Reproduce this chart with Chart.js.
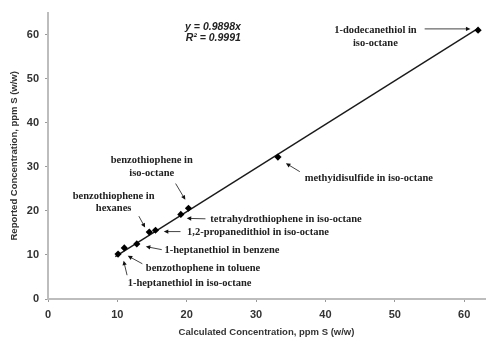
<!DOCTYPE html>
<html>
<head>
<meta charset="utf-8">
<script src="https://cdn.jsdelivr.net/npm/chart.js@4"></script>
<style>
  html, body { margin: 0; padding: 0; background: #fff; }
</style>
</head>
<body>
<canvas id="chart" width="489" height="338"></canvas>
<script>
// measured points: calculated vs reported sulfur (ppm S w/w)
const calculated = [10.1, 11.0, 12.8, 14.6, 15.5, 19.15, 20.25, 33.15, 62.0];
const reported   = [10.2, 11.6, 12.5, 15.2, 15.6, 19.2, 20.6, 32.2, 61.0];

// fitted line y = 0.9898x, end points
const trendX = [9.7, 62.0];
const trendY = [9.6, 61.4];

const xTicks = [0, 10, 20, 30, 40, 50, 60];
const yTicks = [0, 10, 20, 30, 40, 50, 60];

const equationLines = ['y = 0.9898x', 'R² = 0.9991'];

// callouts: text lines, anchor in data units, align, arrow tail -> head in data units
const callouts = [
  { lines: ['1-dodecanethiol in', 'iso-octane'], at: [47.2, 61.0], align: 'center', arrow: [54.3, 61.3, 60.9, 61.3] },
  { lines: ['methyidisulfide in iso-octane'], at: [37.0, 27.4], align: 'left', arrow: [36.3, 28.9, 34.3, 30.8] },
  { lines: ['benzothiophene in', 'iso-octane'], at: [14.96, 31.5], align: 'center', arrow: [18.4, 26.2, 19.8, 22.5] },
  { lines: ['benzothiophene in', 'hexanes'], at: [9.46, 23.4], align: 'center', arrow: [13.1, 18.8, 14.0, 16.2] },
  { lines: ['tetrahydrothiophene in iso-octane'], at: [23.4, 18.05], align: 'left', arrow: [22.7, 18.2, 20.0, 18.3] },
  { lines: ['1,2-propanedithiol in iso-octane'], at: [20.05, 15.06], align: 'left', arrow: [19.1, 15.3, 16.7, 15.3] },
  { lines: ['1-heptanethiol in benzene'], at: [16.8, 10.96], align: 'left', arrow: [16.4, 11.2, 14.1, 11.9] },
  { lines: ['benzothophene in toluene'], at: [14.1, 6.87], align: 'left', arrow: [13.6, 8.0, 11.5, 9.8] },
  { lines: ['1-heptanethiol in iso-octane'], at: [11.5, 3.65], align: 'left', arrow: [11.4, 5.4, 10.9, 8.7] }
];

const calloutFont = 'bold 10.5px "Liberation Serif", serif';
const axisGrey = '#bdbdbd';
const textDark = '#333';

function drawArrow(ctx, x1, y1, x2, y2) {
  const ang = Math.atan2(y2 - y1, x2 - x1);
  const head = 5;
  ctx.beginPath();
  ctx.moveTo(x1, y1);
  ctx.lineTo(x2 - Math.cos(ang) * head * 0.8, y2 - Math.sin(ang) * head * 0.8);
  ctx.stroke();
  ctx.beginPath();
  ctx.moveTo(x2, y2);
  ctx.lineTo(x2 - head * Math.cos(ang - 0.45), y2 - head * Math.sin(ang - 0.45));
  ctx.lineTo(x2 - head * Math.cos(ang + 0.45), y2 - head * Math.sin(ang + 0.45));
  ctx.closePath();
  ctx.fill();
}

const calloutPlugin = {
  id: 'callouts',
  afterDatasetsDraw(chart) {
    const { ctx, scales: { x, y } } = chart;
    ctx.save();
    ctx.textBaseline = 'middle';
    ctx.fillStyle = '#222';
    ctx.font = calloutFont;
    callouts.forEach(c => {
      const px = x.getPixelForValue(c.at[0]);
      let py = y.getPixelForValue(c.at[1]);
      ctx.textAlign = c.align;
      c.lines.forEach(l => { ctx.fillText(l, px, py); py += 12.6; });
    });
    ctx.strokeStyle = '#444';
    ctx.fillStyle = '#111';
    ctx.lineWidth = 1;
    callouts.forEach(c => {
      const a = c.arrow;
      drawArrow(ctx, x.getPixelForValue(a[0]), y.getPixelForValue(a[1]),
                x.getPixelForValue(a[2]), y.getPixelForValue(a[3]));
    });
    // regression equation
    ctx.font = 'italic bold 10.5px "Liberation Sans", Arial, sans-serif';
    ctx.fillStyle = '#222';
    ctx.textAlign = 'right';
    const ex = x.getPixelForValue(27.8);
    ctx.fillText(equationLines[0], ex, y.getPixelForValue(61.8));
    ctx.fillText(equationLines[1], ex, y.getPixelForValue(59.3));
    ctx.restore();
  }
};

const keepTicks = list => scale => {
  scale.ticks = list.map(v => ({ value: v }));
};

new Chart(document.getElementById('chart'), {
  type: 'scatter',
  data: {
    datasets: [
      {
        label: 'samples',
        data: calculated.map((v, i) => ({ x: v, y: reported[i] })),
        pointStyle: 'rectRot',
        pointRadius: 3.6,
        backgroundColor: '#000',
        borderColor: '#000',
        borderWidth: 0,
        order: 0
      },
      {
        label: 'fit',
        type: 'line',
        data: trendX.map((v, i) => ({ x: v, y: trendY[i] })),
        borderColor: '#1a1a1a',
        borderWidth: 1.4,
        pointRadius: 0,
        fill: false,
        order: 1
      }
    ]
  },
  options: {
    responsive: false,
    animation: false,
    devicePixelRatio: 1,
    layout: { padding: { top: 8, right: 1, left: 0, bottom: 0 } },
    plugins: { legend: { display: false }, tooltip: { enabled: false } },
    scales: {
      x: {
        type: 'linear',
        min: 0, max: 63,
        afterBuildTicks: keepTicks(xTicks),
        afterFit: s => { s.height = 39; },
        border: { color: axisGrey, width: 2 },
        grid: { drawOnChartArea: false, color: '#999', tickLength: 3 },
        ticks: { color: textDark, padding: 6, font: { family: '"Liberation Sans", Arial', size: 11, weight: 'bold' } },
        title: {
          display: true, text: 'Calculated Concentration, ppm S (w/w)', color: textDark,
          padding: { top: 1, bottom: 0 },
          font: { family: '"Liberation Sans", Arial', size: 9.5, weight: 'bold' }
        }
      },
      y: {
        type: 'linear',
        min: 0, max: 65,
        afterBuildTicks: keepTicks(yTicks),
        afterFit: s => { s.width = 48; },
        border: { color: axisGrey, width: 2 },
        grid: { drawOnChartArea: false, color: '#999', tickLength: 3 },
        ticks: { color: textDark, padding: 6, font: { family: '"Liberation Sans", Arial', size: 11, weight: 'bold' } },
        title: {
          display: true, text: 'Reported Concentration, ppm S (w/w)', color: textDark,
          padding: { top: 9, bottom: 0 },
          font: { family: '"Liberation Sans", Arial', size: 9.5, weight: 'bold' }
        }
      }
    }
  },
  plugins: [calloutPlugin]
});
</script>
</body>
</html>
